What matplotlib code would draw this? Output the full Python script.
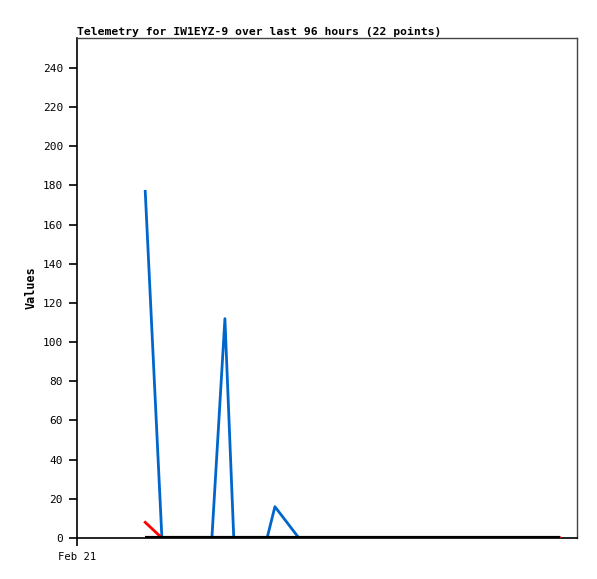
import matplotlib

matplotlib.use("Agg")
import matplotlib.pyplot as plt

# hours since Feb 21 00:00
hours_a = [13.1, 16.3, 20.0, 25.9, 28.4, 30.1, 33.0, 36.5, 38.0, 42.6, 46.0,
           50.0, 54.0, 58.0, 62.0, 66.0, 70.0, 74.0, 78.0, 82.0, 87.0, 92.7]
values_a = [177, 0, 0, 0, 112, 0, 0, 0, 16, 0, 0,
            0, 0, 0, 0, 0, 0, 0, 0, 0, 0, 0]
values_b = [8, 0, 0, 0, 0, 0, 0, 0, 0, 0, 0,
            0, 0, 0, 0, 0, 0, 0, 0, 0, 0, 0]
values_c = [0] * 22

y_ticks = list(range(0, 241, 20))
x_ticks = [0]
x_ticklabels = ["Feb 21"]

MONO = "DejaVu Sans Mono"

fig = plt.figure(figsize=(5.97, 5.79), dpi=100)
ax = fig.add_axes([77 / 597, 41 / 579, 500 / 597, 500 / 579])

ax.plot(hours_a, values_a, color="#0066cc", lw=2.0, zorder=2)
ax.plot(hours_a, values_b, color="#ff0000", lw=2.0, zorder=3)
ax.plot(hours_a, values_c, color="#000000", lw=3.0, zorder=4,
        solid_capstyle="butt")

ax.set_xlim(0, 96)
ax.set_ylim(0, 255.3)
ax.set_yticks(y_ticks)
ax.set_yticklabels([str(v) for v in y_ticks], fontfamily=MONO, fontsize=8)
ax.set_xticks(x_ticks)
ax.set_xticklabels(x_ticklabels, fontfamily=MONO, fontsize=7.6)
ax.tick_params(axis="both", direction="out", length=6, width=1.2,
               color="black", pad=4)

for side in ("left", "bottom"):
    ax.spines[side].set_color("black")
    ax.spines[side].set_linewidth(1.2)
for side in ("top", "right"):
    ax.spines[side].set_color("#444444")
    ax.spines[side].set_linewidth(1.0)

ax.set_ylabel("Values", fontfamily=MONO, fontsize=8.5, fontweight="bold",
              labelpad=0)
ax.yaxis.set_label_coords(-39 / 500, 0.5)
fig.text(77 / 597, 1 - 31.5 / 579,
         "Telemetry for IW1EYZ-9 over last 96 hours (22 points)",
         fontfamily=MONO, fontsize=8.2, fontweight="bold",
         ha="left", va="center")

fig.savefig("out.png", dpi=100)
